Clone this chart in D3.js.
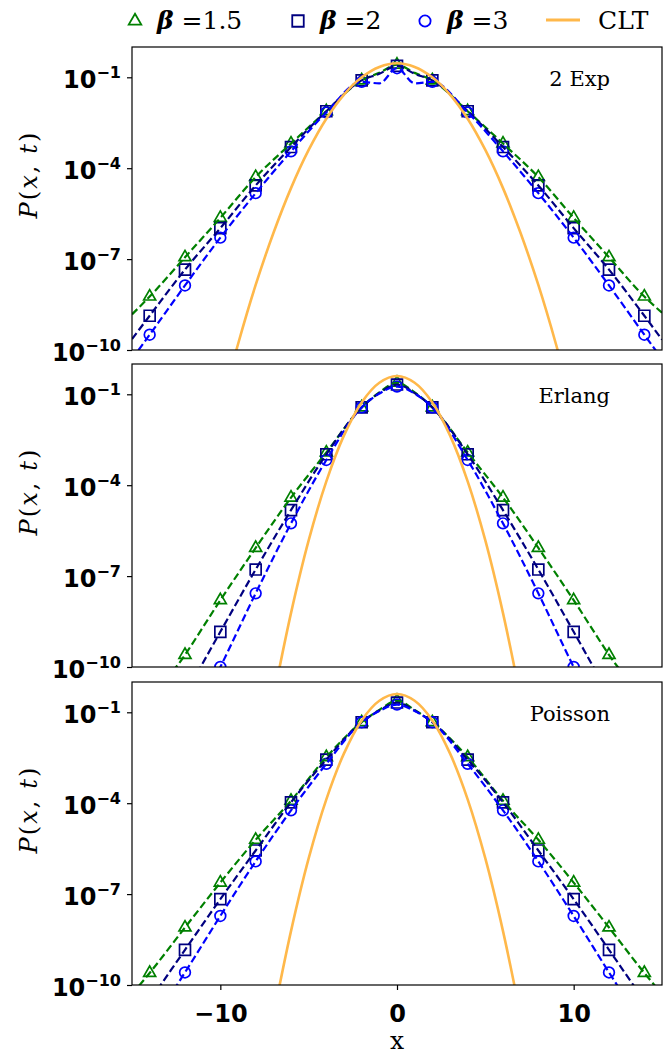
<!DOCTYPE html>
<html>
<head>
<meta charset="utf-8">
<script src="https://cdn.jsdelivr.net/npm/d3@7"></script>
<style>
  body { margin: 0; background: #fff; }
  svg { display: block; }
</style>
</head>
<body>
<svg id="chart" width="670" height="1055"></svg>
<script>
// ---- data ----
const panelNames = ["2 Exp", "Erlang", "Poisson"];
const seriesNames = ["1.5", "2", "3"];

// marker positions (x) shared by every series
const markerX = [-14, -12, -10, -8, -6, -4, -2, 0, 2, 4, 6, 8, 10, 12, 14];

// 2 Exp
const exp2Beta15 = [5.8e-9, 1.15e-7, 2.3e-6, 5.1e-5, 6.5e-4, 7.6e-3, 7.9e-2, 2.6e-1, 7.9e-2, 7.6e-3, 6.5e-4, 5.1e-5, 2.3e-6, 1.15e-7, 5.8e-9];
const exp2Beta2 = [1.35e-9, 4.5e-8, 1.05e-6, 2.7e-5, 5.0e-4, 7.6e-3, 7.9e-2, 2.4e-1, 7.9e-2, 7.6e-3, 5.0e-4, 2.7e-5, 1.05e-6, 4.5e-8, 1.35e-9];
const exp2Beta3 = [3.2e-10, 1.35e-8, 5.1e-7, 1.5e-5, 3.6e-4, 6.9e-3, 7.1e-2, 2.0e-1, 7.1e-2, 6.9e-3, 3.6e-4, 1.5e-5, 5.1e-7, 1.35e-8, 3.2e-10];

// Erlang
const erlBeta15 = [null, 2.5e-10, 1.6e-8, 8.5e-7, 3.9e-5, 1.2e-3, 3.7e-2, 2.4e-1, 3.7e-2, 1.2e-3, 3.9e-5, 8.5e-7, 1.6e-8, 2.5e-10, null];
const erlBeta2 = [null, null, 1.45e-9, 1.65e-7, 1.5e-5, 1.05e-3, 3.7e-2, 2.1e-1, 3.7e-2, 1.05e-3, 1.5e-5, 1.65e-7, 1.45e-9, null, null];
const erlBeta3 = [null, null, 1.0e-10, 2.7e-8, 5.5e-6, 6.8e-4, 3.7e-2, 1.8e-1, 3.7e-2, 6.8e-4, 5.5e-6, 2.7e-8, 1.0e-10, null, null];

// Poisson
const poiBeta15 = [2.5e-10, 7.9e-9, 2.4e-7, 6.2e-6, 1.2e-4, 3.3e-3, 4.7e-2, 2.4e-1, 4.7e-2, 3.3e-3, 1.2e-4, 6.2e-6, 2.4e-7, 7.9e-9, 2.5e-10];
const poiBeta2 = [null, 1.45e-9, 6.8e-8, 2.75e-6, 1.07e-4, 2.75e-3, 4.7e-2, 2.1e-1, 4.7e-2, 2.75e-3, 1.07e-4, 2.75e-6, 6.8e-8, 1.45e-9, null];
const poiBeta3 = [null, 2.6e-10, 1.9e-8, 1.2e-6, 5.8e-5, 2.0e-3, 4.7e-2, 1.8e-1, 4.7e-2, 2.0e-3, 5.8e-5, 1.2e-6, 1.9e-8, 2.6e-10, null];

// dashed curves (x shared by every dashed curve)
const lineX = [-15, -14, -12, -10, -8, -6, -4, -2, -1, 0, 1, 2, 4, 6, 8, 10, 12, 14, 15];

const exp2Line15 = [1.5e-9, 5.8e-9, 1.15e-7, 2.3e-6, 5.1e-5, 6.5e-4, 7.6e-3, 7.9e-2, 1.4e-1, 2.6e-1, 1.4e-1, 7.9e-2, 7.6e-3, 6.5e-4, 5.1e-5, 2.3e-6, 1.15e-7, 5.8e-9, 1.7e-9];
const exp2Line2 = [2.3e-10, 1.35e-9, 4.5e-8, 1.05e-6, 2.7e-5, 5.0e-4, 7.6e-3, 7.9e-2, 1.3e-1, 2.4e-1, 1.3e-1, 7.9e-2, 7.6e-3, 5.0e-4, 2.7e-5, 1.05e-6, 4.5e-8, 1.35e-9, 2.2e-10];
const exp2Line3 = [5e-11, 3.2e-10, 1.35e-8, 5.1e-7, 1.5e-5, 3.6e-4, 6.9e-3, 7.1e-2, 6.3e-2, 2.0e-1, 6.3e-2, 7.1e-2, 6.9e-3, 3.6e-4, 1.5e-5, 5.1e-7, 1.35e-8, 3.2e-10, 5e-11];

const erlLine15 = [2e-13, 5e-12, 2.5e-10, 1.6e-8, 8.5e-7, 3.9e-5, 1.2e-3, 3.7e-2, 1.15e-1, 2.4e-1, 1.15e-1, 3.7e-2, 1.2e-3, 3.9e-5, 8.5e-7, 1.6e-8, 2.5e-10, 5e-12, 2e-13];
const erlLine2 = [1e-14, 1e-13, 1.2e-11, 1.45e-9, 1.65e-7, 1.5e-5, 1.05e-3, 3.7e-2, 1.1e-1, 2.1e-1, 1.1e-1, 3.7e-2, 1.05e-3, 1.5e-5, 1.65e-7, 1.45e-9, 1.2e-11, 1e-13, 1e-14];
const erlLine3 = [1e-16, 1e-15, 5e-13, 1.0e-10, 2.7e-8, 5.5e-6, 6.8e-4, 3.7e-2, 1.05e-1, 1.8e-1, 1.05e-1, 3.7e-2, 6.8e-4, 5.5e-6, 2.7e-8, 1.0e-10, 5e-13, 1e-15, 1e-16];

const poiLine15 = [5e-11, 2.5e-10, 7.9e-9, 2.4e-7, 6.2e-6, 1.2e-4, 3.3e-3, 4.7e-2, 1.2e-1, 2.4e-1, 1.2e-1, 4.7e-2, 3.3e-3, 1.2e-4, 6.2e-6, 2.4e-7, 7.9e-9, 2.5e-10, 5e-11];
const poiLine2 = [4.5e-12, 3e-11, 1.45e-9, 6.8e-8, 2.75e-6, 1.07e-4, 2.75e-3, 4.7e-2, 1.15e-1, 2.1e-1, 1.15e-1, 4.7e-2, 2.75e-3, 1.07e-4, 2.75e-6, 6.8e-8, 1.45e-9, 3e-11, 4.5e-12];
const poiLine3 = [5e-13, 4e-12, 2.6e-10, 1.9e-8, 1.2e-6, 5.8e-5, 2.0e-3, 4.7e-2, 1.1e-1, 1.8e-1, 1.1e-1, 4.7e-2, 2.0e-3, 5.8e-5, 1.2e-6, 1.9e-8, 2.6e-10, 4e-12, 5e-13];

// CLT gaussians
const cltX = [-10, -9, -8, -7, -6, -5, -4, -3, -2, -1, 0, 1, 2, 3, 4, 5, 6, 7, 8, 9, 10];
const cltExp2 = [1.0e-12, 1.55e-10, 1.4e-8, 7.1e-7, 2.2e-5, 4.0e-4, 4.3e-3, 2.7e-2, 1.0e-1, 2.2e-1, 2.9e-1, 2.2e-1, 1.0e-1, 2.7e-2, 4.3e-3, 4.0e-4, 2.2e-5, 7.1e-7, 1.4e-8, 1.55e-10, 1.0e-12];
const cltErlang = [null, null, null, 9.1e-12, 6.0e-9, 1.5e-6, 1.34e-4, 4.4e-3, 5.4e-2, 2.4e-1, 4.0e-1, 2.4e-1, 5.4e-2, 4.4e-3, 1.34e-4, 1.5e-6, 6.0e-9, 9.1e-12, null, null, null];
const cltPoisson = [null, null, null, 9.1e-12, 6.0e-9, 1.5e-6, 1.34e-4, 4.4e-3, 5.4e-2, 2.4e-1, 4.0e-1, 2.4e-1, 5.4e-2, 4.4e-3, 1.34e-4, 1.5e-6, 6.0e-9, 9.1e-12, null, null, null];

const yTicks = [1e-1, 1e-4, 1e-7, 1e-10];
const yTickExp = ["\u22121", "\u22124", "\u22127", "\u221210"];
const xTicks = [-10, 0, 10];

// ---- layout ----
const colors = ["green", "navy", "blue"];
const symbols = [d3.symbolTriangle, d3.symbolSquare, d3.symbolCircle];
const symbolSize = [62, 120, 90];
const clt = "#ffb84a";

const left = 132, right = 662, panelH = 303;
const panelTops = [47, 364, 682];

const panels = [
  { name: panelNames[0], markers: [exp2Beta15, exp2Beta2, exp2Beta3], lines: [exp2Line15, exp2Line2, exp2Line3], clt: cltExp2 },
  { name: panelNames[1], markers: [erlBeta15, erlBeta2, erlBeta3], lines: [erlLine15, erlLine2, erlLine3], clt: cltErlang },
  { name: panelNames[2], markers: [poiBeta15, poiBeta2, poiBeta3], lines: [poiLine15, poiLine2, poiLine3], clt: cltPoisson }
];

const svg = d3.select("#chart");
const x = d3.scaleLinear().domain([-15, 15]).range([left, right]);

const tickFont = "'DejaVu Sans', sans-serif";
const serif = "'DejaVu Serif', serif";

panels.forEach((p, i) => {
  const top = panelTops[i], bottom = top + panelH;
  const y = d3.scaleLog().domain([1e-10, 1]).range([bottom, top]);
  const g = svg.append("g");

  g.append("defs").append("clipPath")
    .attr("id", "clip" + i)
    .append("rect")
    .attr("x", left).attr("y", top)
    .attr("width", right - left).attr("height", panelH);

  const plot = g.append("g").attr("clip-path", `url(#clip${i})`);

  // markers
  p.markers.forEach((vals, s) => {
    const pts = markerX.map((xv, k) => [xv, vals[k]]).filter(d => d[1] != null);
    plot.append("g").selectAll("path")
      .data(pts)
      .join("path")
      .attr("d", d3.symbol().type(symbols[s]).size(symbolSize[s]))
      .attr("transform", d => `translate(${x(d[0])},${y(d[1])})`)
      .attr("fill", "none")
      .attr("stroke", colors[s])
      .attr("stroke-width", 1.7);
  });

  // dashed curves
  const line = d3.line()
    .defined(d => d[1] != null)
    .x(d => x(d[0]))
    .y(d => y(d[1]))
    .curve(d3.curveMonotoneX);

  p.lines.forEach((vals, s) => {
    plot.append("path")
      .datum(lineX.map((xv, k) => [xv, vals[k]]))
      .attr("d", line)
      .attr("fill", "none")
      .attr("stroke", colors[s])
      .attr("stroke-width", 2.2)
      .attr("stroke-dasharray", "7.5,3.5");
  });

  // CLT
  plot.append("path")
    .datum(cltX.map((xv, k) => [xv, p.clt[k]]))
    .attr("d", line.curve(d3.curveCatmullRom))
    .attr("fill", "none")
    .attr("stroke", clt)
    .attr("stroke-width", 2.6);

  // frame
  g.append("rect")
    .attr("x", left).attr("y", top)
    .attr("width", right - left).attr("height", panelH)
    .attr("fill", "none")
    .attr("stroke", "#000")
    .attr("stroke-width", 1.2);

  // y axis
  const yAxis = g.append("g")
    .attr("transform", `translate(${left},0)`)
    .call(d3.axisLeft(y).tickValues(yTicks).tickSize(5).tickFormat(() => ""));
  yAxis.select(".domain").remove();
  yAxis.selectAll(".tick line").attr("stroke-width", 1.2);
  yAxis.selectAll(".tick").each(function (d, k) {
    const t = d3.select(this).append("text")
      .attr("x", -11)
      .attr("y", 10.5)
      .attr("text-anchor", "end")
      .attr("fill", "#000")
      .style("font-family", tickFont)
      .style("font-weight", "bold")
      .style("font-size", "24px");
    t.append("tspan").text("10");
    t.append("tspan")
      .attr("dy", -10.5)
      .style("font-size", "16px")
      .text(yTickExp[k]);
  });

  // y label
  const lab = g.append("text")
    .attr("transform", `translate(37,${top + panelH / 2 - 23}) rotate(-90)`)
    .attr("text-anchor", "middle")
    .attr("textLength", 86)
    .style("font-family", serif)
    .style("font-size", "24px");
  lab.append("tspan").style("font-style", "italic").text("P");
  lab.append("tspan").text("(");
  lab.append("tspan").style("font-style", "italic").text("x");
  lab.append("tspan").text(", ");
  lab.append("tspan").style("font-style", "italic").text("t");
  lab.append("tspan").text(")");

  // panel name
  g.append("text")
    .attr("x", 610)
    .attr("y", top + 39)
    .attr("text-anchor", "end")
    .style("font-family", serif)
    .style("font-size", "21px")
    .text(p.name);

  // x axis only on the last panel
  if (i === panels.length - 1) {
    const xAxis = g.append("g")
      .attr("transform", `translate(0,${bottom})`)
      .call(d3.axisBottom(x).tickValues(xTicks).tickSize(5)
        .tickFormat(d => d < 0 ? "\u2212" + Math.abs(d) : d));
    xAxis.select(".domain").remove();
    xAxis.selectAll(".tick line").attr("stroke-width", 1.2);
    xAxis.selectAll(".tick text")
      .attr("y", 14)
      .attr("dy", "0.95em")
      .attr("fill", "#000")
      .style("font-family", tickFont)
      .style("font-weight", "bold")
      .style("font-size", "24px");

    g.append("text")
      .attr("x", x(0))
      .attr("y", 1049)
      .attr("text-anchor", "middle")
      .style("font-family", serif)
      .style("font-size", "25px")
      .text("x");
  }
});

// ---- legend ----
const legend = svg.append("g");
const legX = [135, 298, 425];
seriesNames.forEach((nm, s) => {
  legend.append("path")
    .attr("d", d3.symbol().type(symbols[s]).size(symbolSize[s] * 1.1))
    .attr("transform", `translate(${legX[s]},21)`)
    .attr("fill", "none")
    .attr("stroke", colors[s])
    .attr("stroke-width", 1.8);
  const t = legend.append("text")
    .attr("x", legX[s] + 22)
    .attr("y", 29)
    .style("font-family", serif)
    .style("font-size", "25px");
  t.append("tspan").style("font-weight", "bold").style("font-style", "italic").text("\u03b2");
  t.append("tspan").text(" =" + nm);
});
legend.append("line")
  .attr("x1", 546).attr("x2", 580)
  .attr("y1", 20).attr("y2", 20)
  .attr("stroke", clt)
  .attr("stroke-width", 2.8);
legend.append("text")
  .attr("x", 598)
  .attr("y", 29)
  .style("font-family", serif)
  .style("font-size", "25px")
  .text("CLT");
</script>
</body>
</html>
